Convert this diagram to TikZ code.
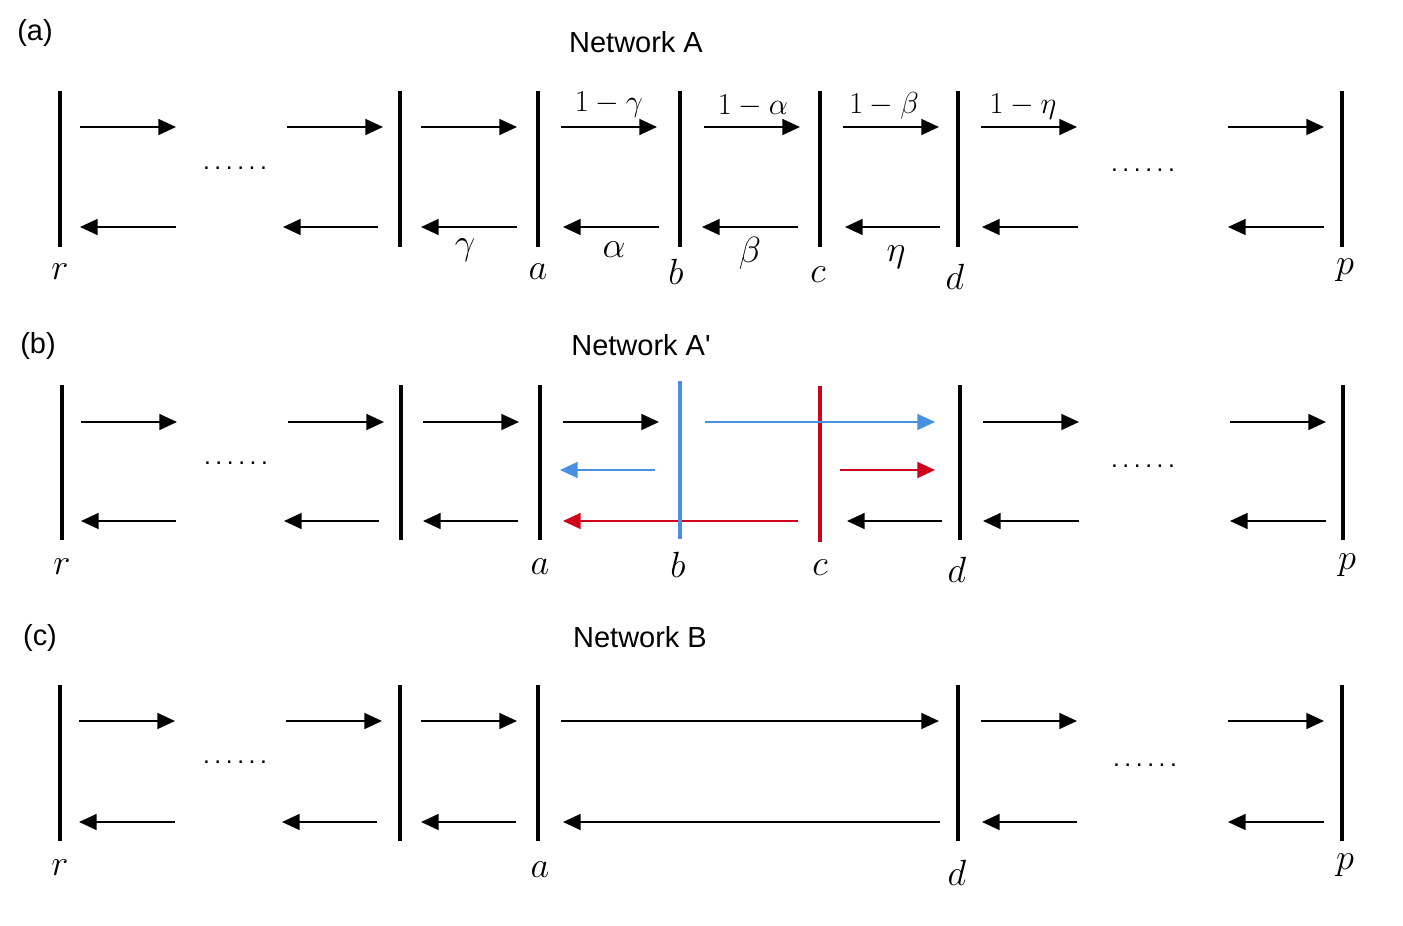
\documentclass[tikz,border=0pt]{standalone}
\usepackage{amsmath}
\usepackage{fontspec}
\newfontfamily\helv{Liberation Sans}
\usetikzlibrary{arrows.meta}

\definecolor{netblue}{RGB}{74,144,226}
\definecolor{netred}{RGB}{208,2,27}

\newcommand{\sixdots}{.\kern2.6pt.\kern2.6pt.\kern2.6pt.\kern2.6pt.\kern2.6pt.}

\begin{document}
\begin{tikzpicture}[
        x=0.02cm, y=-0.02cm,
        bar/.style={line width=2pt},
        flow/.style={line width=1.1pt, -{Triangle[length=10pt,width=9pt]}},
        title/.style={font=\helv\fontsize{16.5}{18}\selectfont, inner sep=0pt},
        lbl/.style={font=\fontsize{20.5}{22}\selectfont, inner sep=0pt},
        wt/.style={font=\fontsize{18}{20}\selectfont, inner sep=0pt},
        dots/.style={font=\helv\fontsize{14}{16}\selectfont, inner sep=0pt, anchor=base}
    ]
    \useasboundingbox (0,0) rectangle (1403,926);

    % Network A
    \begin{scope}
        \node[title] (Atag) at (35,33) {(a)};
        \node[title] (Aname) at (636,42) {Network A};
        \foreach \n/\x in {r/60, s/400, a/538, b/680, c/820, d/958, p/1342} {
            \coordinate (A\n t) at (\x,91);
            \coordinate (A\n b) at (\x,247);
            \draw[bar] (A\n t) -- (A\n b);
        }
        \foreach \n/\xa/\xb in {1/80/176, 2/287/383, 3/421/517, 4/561/657, 5/704/800, 6/843/939, 7/981/1077, 8/1228/1324} {
            \coordinate (Af\n) at (\xa,127);
            \coordinate (Ag\n) at (\xb,127);
            \draw[flow] (Af\n) -- (Ag\n);
        }
        \foreach \n/\xa/\xb in {1/176/80, 2/378/283, 3/517/421, 4/659/563, 5/798/702, 6/940/845, 7/1078/982, 8/1324/1228} {
            \coordinate (Ah\n) at (\xa,227);
            \coordinate (Ak\n) at (\xb,227);
            \draw[flow] (Ah\n) -- (Ak\n);
        }
        \foreach \n/\x/\y in {r/60/272, a/538/272, b/676/272, c/818/275, d/955/277, p/1345/270}
            \node[lbl] (Al\n) at (\x,\y) {$\n$};
        \node[lbl] (Agam) at (465,250) {$\gamma$};
        \node[lbl] (Aalp) at (614,250) {$\alpha$};
        \node[lbl] (Abet) at (750,253) {$\beta$};
        \node[lbl] (Aeta) at (896,257) {$\eta$};
        \node[wt] (Aw1) at (609,105) {$1-\gamma$};
        \node[wt] (Aw2) at (753,106) {$1-\alpha$};
        \node[wt] (Aw3) at (884,106) {$1-\beta$};
        \node[wt] (Aw4) at (1023,107) {$1-\eta$};
        \node[dots] (Adl) at (235,169.5) {\sixdots};
        \node[dots] (Adr) at (1143,172) {\sixdots};
    \end{scope}

    % Network A'
    \begin{scope}[shift={(0,294)}]
        \node[title] (Btag) at (38,52) {(b)};
        \node[title] (Bname) at (641,51) {Network A'};
        \foreach \n/\x in {r/62, s/401, a/540, d/960, p/1343} {
            \coordinate (B\n t) at (\x,91);
            \coordinate (B\n b) at (\x,246);
            \draw[bar] (B\n t) -- (B\n b);
        }
        \coordinate (Bbt) at (680,87);
        \coordinate (Bbb) at (680,245);
        \coordinate (Bct) at (820,92);
        \coordinate (Bcb) at (820,248);
        \foreach \n/\xa/\xb in {1/81/177, 2/288/384, 3/423/519, 4/563/659, 7/983/1079, 8/1230/1326} {
            \coordinate (Bf\n) at (\xa,128);
            \coordinate (Bg\n) at (\xb,128);
            \draw[flow] (Bf\n) -- (Bg\n);
        }
        \foreach \n/\xa/\xb in {1/176/81, 2/379/284, 3/518/423, 6/942/847, 7/1079/983, 8/1326/1230} {
            \coordinate (Bh\n) at (\xa,227);
            \coordinate (Bk\n) at (\xb,227);
            \draw[flow] (Bh\n) -- (Bk\n);
        }
        \coordinate (Bu1) at (798,227);
        \coordinate (Bu2) at (563,227);
        \coordinate (Bv1) at (655,176);
        \coordinate (Bv2) at (560,176);
        \coordinate (Bw1) at (840,176);
        \coordinate (Bw2) at (935,176);
        \coordinate (Bz1) at (705,128);
        \coordinate (Bz2) at (935,128);
        \draw[flow, netred] (Bu1) -- (Bu2);
        \draw[bar, netblue] (Bbt) -- (Bbb);
        \draw[bar, netred] (Bct) -- (Bcb);
        \draw[flow, netblue] (Bv1) -- (Bv2);
        \draw[flow, netred] (Bw1) -- (Bw2);
        \draw[flow, netblue] (Bz1) -- (Bz2);
        \foreach \n/\x/\y in {r/62/273, a/540/273, b/678/271, c/820/274, d/957/276, p/1347/271}
            \node[lbl] (Bl\n) at (\x,\y) {$\n$};
        \node[dots] (Bdl) at (236,170.5) {\sixdots};
        \node[dots] (Bdr) at (1143,173) {\sixdots};
    \end{scope}

    % Network B
    \begin{scope}[shift={(0,594)}]
        \node[title] (Ctag) at (40,44) {(c)};
        \node[title] (Cname) at (640,43) {Network B};
        \foreach \n/\x in {r/60, s/400, a/538, d/958, p/1342} {
            \coordinate (C\n t) at (\x,91);
            \coordinate (C\n b) at (\x,247);
            \draw[bar] (C\n t) -- (C\n b);
        }
        \foreach \n/\xa/\xb in {1/79/175, 2/286/382, 3/421/517, 4/561/939, 7/981/1077, 8/1228/1324} {
            \coordinate (Cf\n) at (\xa,127);
            \coordinate (Cg\n) at (\xb,127);
            \draw[flow] (Cf\n) -- (Cg\n);
        }
        \foreach \n/\xa/\xb in {1/175/79, 2/377/282, 3/516/421, 4/940/563, 7/1077/982, 8/1324/1228} {
            \coordinate (Ch\n) at (\xa,228);
            \coordinate (Ck\n) at (\xb,228);
            \draw[flow] (Ch\n) -- (Ck\n);
        }
        \foreach \n/\x/\y in {r/60/274, a/540/276, d/957/279, p/1345/271}
            \node[lbl] (Cl\n) at (\x,\y) {$\n$};
        \node[dots] (Cdl) at (235,169.5) {\sixdots};
        \node[dots] (Cdr) at (1145,172) {\sixdots};
    \end{scope}

\end{tikzpicture}
\end{document}
